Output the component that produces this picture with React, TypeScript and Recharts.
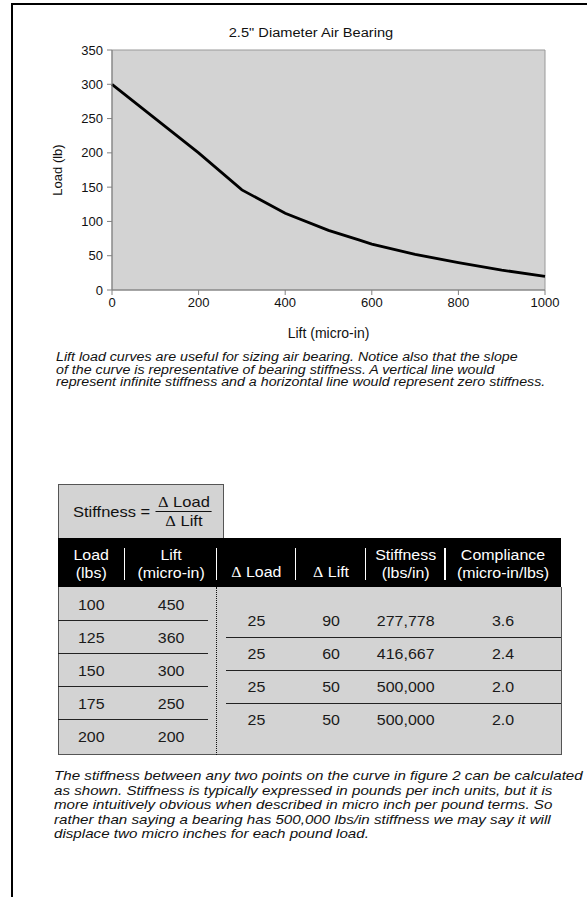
import React from "react";
import {
  LineChart,
  Line,
  XAxis,
  YAxis,
  ReferenceArea,
} from "recharts";

// lift/load curve
const LIFT = [0, 100, 200, 300, 400, 500, 570, 600, 700, 800, 900, 1000];
const LOAD = [300, 250, 200, 146, 112, 87, 73, 67, 52, 40, 29, 20];

const X_TICKS = [0, 200, 400, 600, 800, 1000];
const Y_TICKS = [0, 50, 100, 150, 200, 250, 300, 350];

const CAPTION = [
  "Lift load curves are useful for sizing air bearing. Notice also that the slope",
  "of the curve is representative of bearing stiffness. A vertical line would",
  "represent infinite stiffness and a horizontal line would represent zero stiffness.",
];

const FOOTNOTE = [
  "The stiffness between any two points on the curve in figure 2 can be calculated",
  "as shown. Stiffness is typically expressed in pounds per inch units, but it is",
  "more intuitively obvious when described in micro inch per pound terms. So",
  "rather than saying a bearing has 500,000 lbs/in stiffness we may say it will",
  "displace two micro inches for each pound load.",
];

// table contents
const HEADERS = [
  ["Load", "(lbs)"],
  ["Lift", "(micro-in)"],
  ["\u0394 Load"],
  ["\u0394 Lift"],
  ["Stiffness", "(lbs/in)"],
  ["Compliance", "(micro-in/lbs)"],
];
const ROW_LOAD = ["100", "125", "150", "175", "200"];
const ROW_LIFT = ["450", "360", "300", "250", "200"];
const D_LOAD = ["25", "25", "25", "25"];
const D_LIFT = ["90", "60", "50", "50"];
const STIFFNESS = ["277,778", "416,667", "500,000", "500,000"];
const COMPLIANCE = ["3.6", "2.4", "2.0", "2.0"];

const data = LIFT.map((lift, i) => ({ lift, load: LOAD[i] }));

const FONT = '"Liberation Sans", Arial, sans-serif';
const GRAY = "#d3d3d3";
const COLS = [58, 124.5, 216.7, 295.5, 365.6, 445, 561];
// the scanned page is a little wider than tall, text looks stretched
const STRETCH = "scaleX(1.14)";

function Delta({ text }: { text: string }) {
  if (!text.startsWith("\u0394")) return <>{text}</>;
  return (
    <>
      <span style={{ fontFamily: '"Liberation Serif", serif' }}>{"\u0394"}</span>
      {text.slice(1)}
    </>
  );
}

function Cell({ col, cy, text }: { col: number; cy: number; text: string }) {
  const left = COLS[col];
  const width = COLS[col + 1] - left;
  return (
    <div
      style={{
        position: "absolute",
        left,
        width,
        top: cy - 9,
        height: 18,
        lineHeight: "18px",
        textAlign: "center",
        fontSize: 14,
        color: "#1a1a1a",
        transform: STRETCH,
      }}
    >
      {text}
    </div>
  );
}

export default function App() {
  return (
    <div
      style={{
        position: "absolute",
        left: 0,
        top: 0,
        width: 587,
        height: 897,
        background: "#fff",
        fontFamily: FONT,
        overflow: "hidden",
      }}
    >
      {/* page frame */}
      <div style={{ position: "absolute", left: 11, top: 3, width: 576, height: 2, background: "#000" }} />
      <div style={{ position: "absolute", left: 11, top: 3, width: 2, height: 894, background: "#000" }} />

      <div
        style={{
          position: "absolute",
          left: 161,
          width: 300,
          top: 25,
          lineHeight: "16px",
          fontSize: 12.5,
          textAlign: "center",
          color: "#111",
          transform: "scaleX(1.17)",
        }}
      >
        2.5" Diameter Air Bearing
      </div>

      <div style={{ position: "absolute", left: 0, top: 0 }}>
        <LineChart
          width={587}
          height={350}
          data={data}
          margin={{ top: 50, right: 42, bottom: 10, left: 52 }}
          style={{ fontFamily: FONT }}
        >
          <ReferenceArea
            x1={0}
            x2={1000}
            y1={0}
            y2={350}
            fill={GRAY}
            fillOpacity={1}
            stroke="#999"
          />
          <XAxis
            dataKey="lift"
            type="number"
            domain={[0, 1000]}
            ticks={X_TICKS}
            height={50}
            tickSize={5}
            tickMargin={3}
            stroke="#808080"
            tick={{ fill: "#111", fontSize: 13 }}
            label={{
              value: "Lift (micro-in)",
              position: "insideBottom",
              offset: 2,
              fill: "#111",
              fontSize: 14,
            }}
          />
          <YAxis
            type="number"
            domain={[0, 350]}
            ticks={Y_TICKS}
            width={60}
            tickSize={5}
            tickMargin={4}
            stroke="#808080"
            tick={{ fill: "#111", fontSize: 13 }}
            label={{
              value: "Load (lb)",
              angle: -90,
              position: "insideLeft",
              offset: 5,
              fill: "#111",
              fontSize: 13,
              style: { textAnchor: "middle" },
            }}
          />
          <Line
            type="linear"
            dataKey="load"
            stroke="#000"
            strokeWidth={2.8}
            dot={false}
            isAnimationActive={false}
          />
        </LineChart>
      </div>

      {/* caption under the chart */}
      <div
        style={{
          position: "absolute",
          left: 56,
          top: 351,
          fontSize: 12,
          lineHeight: "12.6px",
          fontStyle: "italic",
          color: "#111",
          whiteSpace: "nowrap",
          transform: "scaleX(1.185)",
          transformOrigin: "left top",
        }}
      >
        {CAPTION.map((l) => (
          <div key={l}>{l}</div>
        ))}
      </div>

      {/* formula box */}
      <div
        style={{
          position: "absolute",
          left: 58,
          top: 484,
          width: 166,
          height: 54,
          background: GRAY,
          border: "1px solid #555",
          borderBottom: "none",
          display: "flex",
          alignItems: "center",
          paddingLeft: 14,
          boxSizing: "border-box",
          fontSize: 15,
          color: "#111",
        }}
      >
        <div
          style={{
            display: "flex",
            alignItems: "center",
            transform: "scaleX(1.1)",
            transformOrigin: "left center",
          }}
        >
          <span>Stiffness =</span>
          <span
            style={{
              display: "inline-flex",
              flexDirection: "column",
              alignItems: "center",
              marginLeft: 5,
              lineHeight: "17px",
            }}
          >
            <span style={{ padding: "0 2px" }}>
              <Delta text={"\u0394 Load"} />
            </span>
            <span style={{ alignSelf: "stretch", borderTop: "1.5px solid #111" }} />
            <span>
              <Delta text={"\u0394 Lift"} />
            </span>
          </span>
        </div>
      </div>

      {/* header band */}
      <div
        style={{
          position: "absolute",
          left: 58,
          top: 538,
          width: 503,
          height: 49,
          background: "#000",
        }}
      />
      {HEADERS.map((h, i) => (
        <div
          key={i}
          style={{
            position: "absolute",
            left: COLS[i],
            width: COLS[i + 1] - COLS[i],
            top: 538,
            height: 44,
            display: "flex",
            flexDirection: "column",
            justifyContent: "flex-end",
            alignItems: "center",
            color: "#fff",
            fontSize: 14,
            lineHeight: "18px",
            transform: STRETCH,
          }}
        >
          {h.map((t) => (
            <div key={t} style={{ whiteSpace: "nowrap" }}>
              <Delta text={t} />
            </div>
          ))}
        </div>
      ))}
      {COLS.slice(1, -1).map((x) => (
        <div
          key={x}
          style={{ position: "absolute", left: x - 1, top: 548, width: 1.5, height: 32, background: "#fff" }}
        />
      ))}

      {/* table body */}
      <div
        style={{
          position: "absolute",
          left: 58,
          top: 587,
          width: 502,
          height: 167,
          background: GRAY,
          border: "1px solid #555",
          borderTop: "none",
        }}
      />
      <div
        style={{
          position: "absolute",
          left: 215.5,
          top: 587,
          height: 168,
          borderLeft: "1.5px dotted #111",
        }}
      />
      {ROW_LOAD.slice(0, -1).map((_, i) => (
        <div
          key={"ll" + i}
          style={{ position: "absolute", left: 58, top: 619.5 + 33 * i, width: 150, height: 1.5, background: "#222" }}
        />
      ))}
      {D_LOAD.slice(0, -1).map((_, i) => (
        <div
          key={"rl" + i}
          style={{ position: "absolute", left: 226, top: 636.5 + 33 * i, width: 335, height: 1.5, background: "#222" }}
        />
      ))}
      {ROW_LOAD.map((v, i) => (
        <React.Fragment key={"l" + i}>
          <Cell col={0} cy={605 + 33 * i} text={v} />
          <Cell col={1} cy={605 + 33 * i} text={ROW_LIFT[i]} />
        </React.Fragment>
      ))}
      {D_LOAD.map((v, i) => (
        <React.Fragment key={"r" + i}>
          <Cell col={2} cy={621 + 33 * i} text={v} />
          <Cell col={3} cy={621 + 33 * i} text={D_LIFT[i]} />
          <Cell col={4} cy={621 + 33 * i} text={STIFFNESS[i]} />
          <Cell col={5} cy={621 + 33 * i} text={COMPLIANCE[i]} />
        </React.Fragment>
      ))}

      {/* paragraph below the table */}
      <div
        style={{
          position: "absolute",
          left: 54,
          top: 769,
          fontSize: 13,
          lineHeight: "14.6px",
          fontStyle: "italic",
          color: "#111",
          whiteSpace: "nowrap",
          transform: "scaleX(1.165)",
          transformOrigin: "left top",
        }}
      >
        {FOOTNOTE.map((l) => (
          <div key={l}>{l}</div>
        ))}
      </div>
    </div>
  );
}
